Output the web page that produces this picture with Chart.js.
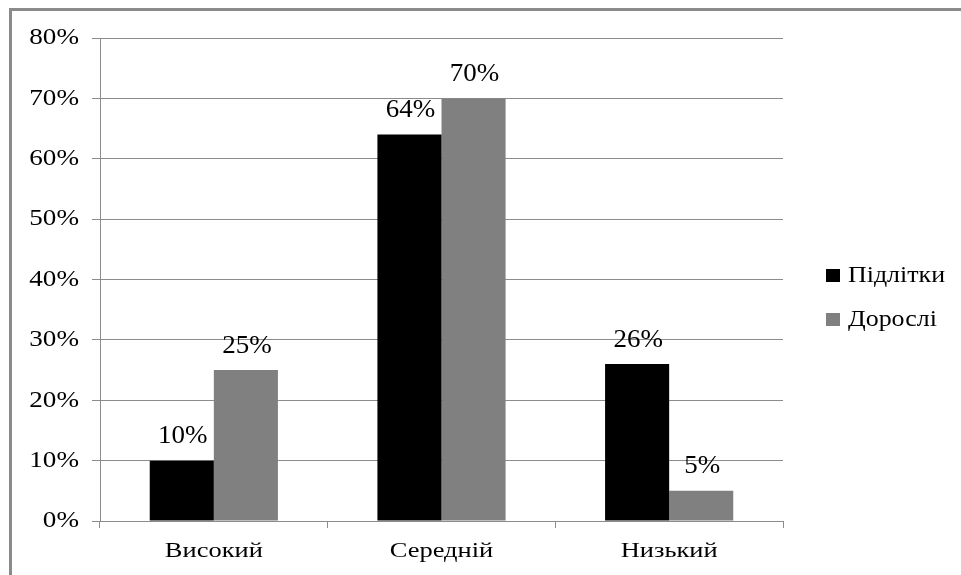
<!DOCTYPE html>
<html>
<head>
<meta charset="utf-8">
<script src="https://cdn.jsdelivr.net/npm/chart.js@4.4.1/dist/chart.umd.min.js"></script>
<style>
  html, body { margin: 0; padding: 0; background: #fff; }
  #wrap { position: relative; width: 961px; height: 575px; }
</style>
</head>
<body>
<div id="wrap"><canvas id="c" width="961" height="575"></canvas></div>
<script>
const categories = ['Високий', 'Середній', 'Низький'];
const seriesNames = ['Підлітки', 'Дорослі'];
const teens = [10, 64, 26];
const adults = [25, 70, 5];
const seriesColors = ['#000000', '#808080'];
const yTickValues = [0, 10, 20, 30, 40, 50, 60, 70, 80];

const FONT = '"Liberation Serif", "Times New Roman", serif';
const GRID = '#8c8c8c';

// text drawn slightly widened, like the wide serif face of the original
function wideText(ctx, text, x, y, align, size, sx) {
  ctx.save();
  ctx.font = size + 'px ' + FONT;
  ctx.fillStyle = '#000';
  ctx.textAlign = align;
  ctx.textBaseline = 'middle';
  ctx.translate(x, y);
  ctx.scale(sx, 1);
  ctx.fillText(text, 0, 0);
  ctx.restore();
}

// frame around the whole chart (top and left edges)
const framePlugin = {
  id: 'frame',
  beforeDraw(chart) {
    const ctx = chart.ctx;
    ctx.save();
    ctx.fillStyle = '#fff';
    ctx.fillRect(0, 0, chart.width, chart.height);
    ctx.strokeStyle = '#8a8a8a';
    ctx.lineWidth = 3;
    ctx.beginPath();
    ctx.moveTo(10.5, chart.height);
    ctx.lineTo(10.5, 9.5);
    ctx.lineTo(chart.width, 9.5);
    ctx.stroke();
    ctx.restore();
  }
};

// axis labels taken from the chart's own scales
const axisLabels = {
  id: 'axisLabels',
  afterDraw(chart) {
    const ctx = chart.ctx;
    const ys = chart.scales.y, xs = chart.scales.x;
    yTickValues.forEach(v => {
      wideText(ctx, v + '%', ys.right - 21, ys.getPixelForValue(v), 'right', 24, 1.13);
    });
    chart.data.labels.forEach((lab, i) => {
      wideText(ctx, lab, xs.getPixelForValue(i), xs.top + 30, 'center', 21, 1.26);
    });
  }
};

// percentage labels above each bar
const valueLabels = {
  id: 'valueLabels',
  afterDatasetsDraw(chart) {
    const ctx = chart.ctx;
    chart.data.datasets.forEach((ds, i) => {
      chart.getDatasetMeta(i).data.forEach((bar, j) => {
        wideText(ctx, ds.data[j] + '%', bar.x + 1, bar.y - 24, 'center', 25, 1.08);
      });
    });
  }
};

// legend on the right
const sideLegend = {
  id: 'sideLegend',
  afterDraw(chart) {
    const ctx = chart.ctx;
    chart.data.datasets.forEach((ds, i) => {
      const y = 276 + i * 44;
      ctx.save();
      ctx.fillStyle = ds.backgroundColor;
      ctx.fillRect(826, y - 7, 14, 13);
      ctx.restore();
      wideText(ctx, ds.label, 848, y, 'left', 24, 1.08);
    });
  }
};

new Chart(document.getElementById('c'), {
  type: 'bar',
  data: {
    labels: categories,
    datasets: [
      { label: seriesNames[0], data: teens, backgroundColor: seriesColors[0] },
      { label: seriesNames[1], data: adults, backgroundColor: seriesColors[1] }
    ]
  },
  options: {
    responsive: false,
    animation: false,
    devicePixelRatio: 1,
    layout: { padding: { left: 10, right: 178, top: 38, bottom: 0 } },
    datasets: { bar: { categoryPercentage: 0.563, barPercentage: 1.0 } },
    plugins: { legend: { display: false }, tooltip: { enabled: false } },
    scales: {
      x: {
        afterFit(s) { s.height = 54; },
        grid: { drawOnChartArea: false, drawTicks: true, tickLength: 7, color: GRID, offset: true },
        border: { color: GRID, width: 1 },
        ticks: { display: false }
      },
      y: {
        min: 0, max: 80,
        afterFit(s) { s.width = 90; },
        grid: { color: GRID, tickLength: 8, lineWidth: 1 },
        border: { color: GRID, width: 1 },
        ticks: { stepSize: 10, display: false }
      }
    }
  },
  plugins: [framePlugin, axisLabels, valueLabels, sideLegend]
});
</script>
</body>
</html>
